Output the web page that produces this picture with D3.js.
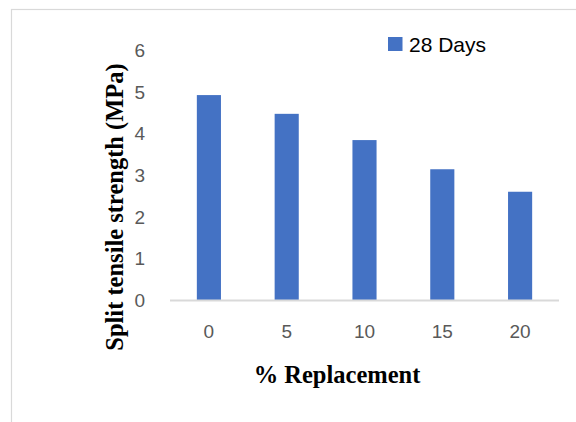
<!DOCTYPE html>
<html><head><meta charset="utf-8">
<script src="https://cdn.jsdelivr.net/npm/d3@7"></script>
<style>body{margin:0;background:#fff;}svg{display:block;}</style>
</head><body>
<script>
const categories = ["0", "5", "10", "15", "20"];
const values28 = [4.93, 4.48, 3.85, 3.15, 2.61];
const yTicks = [0, 1, 2, 3, 4, 5, 6];
const seriesName = "28 Days";

(function () {
const W = 576, H = 422;
const svg = d3.select("body").append("svg").attr("width", W).attr("height", H);

// chart border
svg.append("rect").attr("x", 11.5).attr("y", 9.5).attr("width", 600).attr("height", 600)
  .attr("fill", "none").attr("stroke", "#d9d9d9").attr("stroke-width", 1.2);

const pLeft = 170, pRight = 559, pTop = 50.5, pBottom = 300.5;
const x = d3.scaleBand().domain(categories).range([pLeft, pRight]).paddingInner(0.69).paddingOuter(0.345);
const y = d3.scaleLinear().domain([0, 6]).range([pBottom, pTop]);

svg.append("g").selectAll("rect").data(values28).join("rect")
  .attr("x", (d, i) => x(categories[i]))
  .attr("width", x.bandwidth())
  .attr("y", d => y(d))
  .attr("height", d => y(0) - y(d))
  .attr("fill", "#4472C4");

// x axis
const xa = svg.append("g").attr("transform", `translate(0,${pBottom})`)
  .call(d3.axisBottom(x).tickSize(0).tickPadding(24));
xa.select(".domain").attr("stroke", "#d9d9d9").attr("stroke-width", 2).attr("d", `M${pLeft},0H${pRight}`);
xa.selectAll("text").attr("font-family", "Liberation Sans, Arial, sans-serif").attr("font-size", 19).attr("fill", "#595959");

// y axis
const ya = svg.append("g").attr("transform", `translate(${pLeft},0)`)
  .call(d3.axisLeft(y).tickValues(yTicks).tickFormat(d3.format("d")).tickSize(0).tickPadding(25));
ya.select(".domain").remove();
ya.selectAll("text").attr("font-family", "Liberation Sans, Arial, sans-serif").attr("font-size", 19).attr("fill", "#595959");

// axis titles
svg.append("text").attr("transform", "translate(123,207) rotate(-90)")
  .attr("text-anchor", "middle")
  .attr("font-family", "Liberation Serif, Times New Roman, serif").attr("font-weight", "bold")
  .attr("font-size", 24.5).attr("fill", "#000").text("Split tensile strength (MPa)");
svg.append("text").attr("x", 337).attr("y", 383)
  .attr("text-anchor", "middle")
  .attr("font-family", "Liberation Serif, Times New Roman, serif").attr("font-weight", "bold")
  .attr("font-size", 24.5).attr("fill", "#000").text("% Replacement");

// legend
const lg = svg.append("g");
lg.append("rect").attr("x", 388).attr("y", 37).attr("width", 14.5).attr("height", 14).attr("fill", "#4472C4");
lg.append("text").attr("x", 409).attr("y", 51.5)
  .attr("font-family", "Liberation Sans, Arial, sans-serif").attr("font-size", 21).attr("fill", "#000").text(seriesName);
})();
</script>
</body></html>
